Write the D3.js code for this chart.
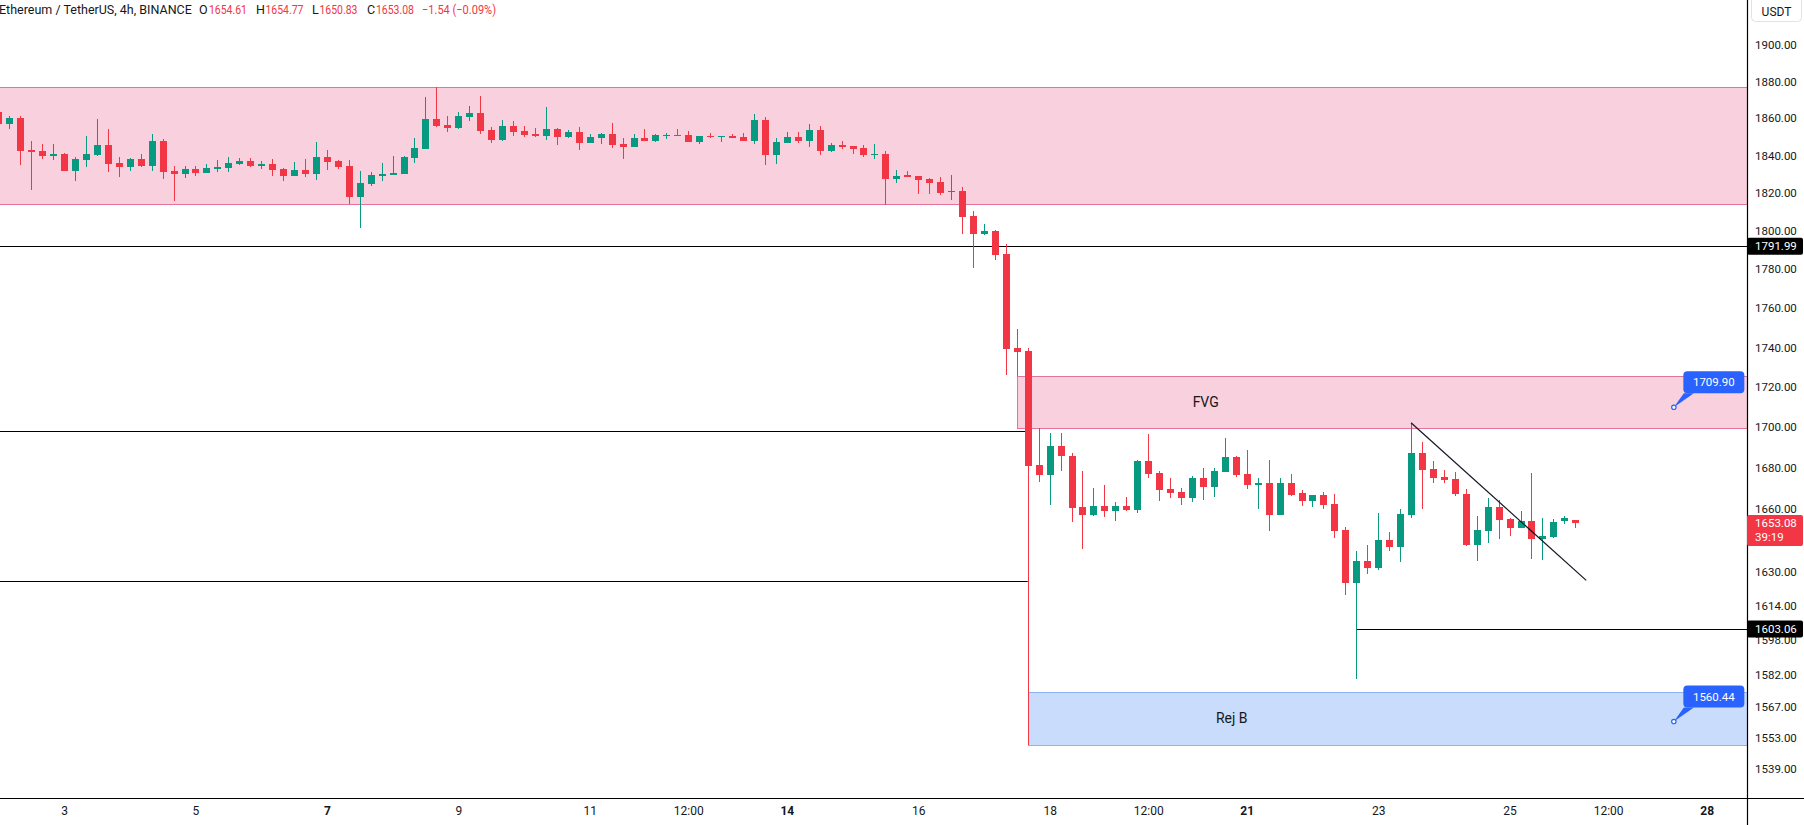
<!DOCTYPE html>
<html><head><meta charset="utf-8">
<script src="https://cdn.jsdelivr.net/npm/d3@7"></script>
<style>
html,body{margin:0;padding:0;background:#fff;overflow:hidden}
svg{display:block;font-family:Roboto,"Noto Sans",sans-serif}
</style>
</head><body>
<svg id="chart" width="1804" height="825"></svg>
<script>
// ---------------- DATA ----------------
const startTime = Date.UTC(2023, 7, 2, 0);   // first visible 4h bar
const barHours = 4;
const opens = [1863.3,1857.0,1860.1,1842.9,1842.3,1839.8,1840.7,1831.8,1837.7,1840.2,1845.6,1835.9,1833.9,1838.0,1834.3,1847.7,1831.6,1830.1,1832.7,1830.7,
1832.8,1833.4,1835.5,1837.0,1834.4,1835.3,1832.7,1829.1,1832.1,1830.1,1839.1,1837.0,1834.3,1817.8,1824.8,1829.1,1829.6,1830.1,1838.7,1843.6,
1859.5,1856.3,1854.9,1860.8,1862.8,1853.6,1848.4,1855.8,1853.1,1851.5,1850.6,1854.2,1850.0,1852.5,1846.8,1849.5,1851.5,1846.1,1844.7,1849.3,
1847.9,1850.4,1850.9,1850.9,1847.3,1850.4,1849.9,1850.4,1849.9,1847.9,1859.0,1840.4,1846.8,1849.9,1847.9,1853.6,1842.5,1845.6,1845.0,1843.9,
1840.4,1840.9,1827.5,1829.3,1828.9,1827.3,1825.6,1820.5,1821.0,1807.8,1798.3,1799.9,1787.9,1739.6,1738.1,1681.4,1676.5,1690.7,1685.8,1661.1,
1657.0,1661.5,1659.1,1661.5,1659.5,1683.4,1677.5,1669.7,1668.3,1665.4,1675.2,1670.6,1677.9,1685.3,1677.0,1671.5,1672.4,1657.0,1672.4,1667.9,
1664.0,1666.8,1662.4,1649.9,1624.6,1635.1,1631.8,1645.0,1641.7,1657.1,1687.3,1679.4,1675.5,1674.5,1667.5,1642.7,1649.4,1661.0,1655.2,1650.8,
1654.2,1645.5,1646.5,1654.2,1654.61];
const highs = [1864.0,1861.1,1861.1,1847.7,1846.1,1846.1,1841.3,1838.9,1850.4,1859.5,1854.2,1839.1,1838.6,1840.7,1851.5,1848.8,1834.3,1834.3,1834.3,1835.3,
1837.5,1839.1,1838.6,1838.6,1837.0,1838.0,1833.2,1836.4,1838.0,1847.2,1842.9,1837.5,1837.5,1831.6,1831.0,1835.9,1839.6,1839.6,1849.3,1871.4,
1876.7,1861.1,1863.3,1866.5,1871.9,1855.2,1859.0,1858.5,1855.8,1854.7,1866.0,1854.7,1853.6,1855.2,1851.5,1852.0,1857.4,1849.3,1851.5,1854.2,
1851.5,1852.0,1854.2,1853.1,1850.4,1852.0,1850.4,1851.5,1852.0,1862.2,1860.6,1849.3,1852.5,1852.5,1856.8,1855.8,1846.6,1847.7,1845.0,1845.6,
1846.1,1842.3,1832.1,1831.5,1828.9,1827.8,1828.3,1829.5,1823.0,1810.5,1803.5,1800.4,1793.1,1749.3,1739.6,1699.6,1697.0,1697.0,1687.2,1678.4,
1670.1,1671.5,1663.4,1665.8,1683.8,1696.6,1678.4,1675.2,1670.1,1676.0,1679.9,1679.9,1694.6,1685.8,1688.7,1675.2,1683.8,1675.2,1677.0,1669.3,
1666.8,1668.3,1667.3,1651.3,1639.8,1642.7,1658.1,1648.9,1660.0,1702.2,1692.8,1683.4,1678.9,1677.9,1669.5,1656.6,1665.3,1664.4,1655.6,1659.0,
1677.5,1655.6,1655.2,1656.6,1654.77];
const lows = [1856.0,1854.3,1835.0,1821.5,1838.2,1837.7,1831.8,1826.4,1833.9,1839.6,1831.2,1828.5,1831.8,1833.5,1831.8,1827.5,1815.6,1828.0,1829.1,1830.7,
1830.9,1831.2,1834.8,1833.9,1832.8,1829.1,1826.4,1829.1,1828.5,1826.9,1832.3,1832.8,1814.0,1801.7,1823.7,1826.4,1829.6,1830.1,1836.1,1843.6,
1855.4,1852.7,1854.3,1858.6,1851.6,1846.8,1847.9,1850.6,1850.0,1850.0,1848.4,1845.7,1849.5,1843.0,1846.8,1846.3,1844.1,1838.2,1844.7,1847.9,
1847.3,1849.0,1850.4,1847.3,1846.3,1849.5,1847.3,1849.5,1847.9,1846.3,1835.0,1835.5,1846.8,1846.8,1844.7,1840.4,1842.0,1843.6,1840.9,1839.3,
1838.2,1813.7,1825.3,1828.2,1819.4,1819.6,1818.8,1816.0,1798.3,1780.4,1797.8,1784.8,1726.0,1725.7,1549.8,1673.3,1661.9,1678.4,1653.8,1640.9,
1656.6,1656.1,1654.2,1659.1,1658.1,1675.2,1663.9,1665.4,1661.9,1663.4,1664.4,1665.8,1677.9,1675.6,1669.7,1660.0,1649.4,1657.0,1666.1,1661.5,
1661.0,1660.0,1646.0,1619.0,1580.1,1628.9,1630.8,1639.8,1634.6,1655.6,1660.0,1672.6,1672.6,1666.1,1642.2,1635.1,1643.6,1645.5,1647.0,1650.8,
1636.0,1635.5,1646.0,1652.8,1650.83];
const closes = [1857.0,1860.1,1842.5,1842.0,1839.8,1840.7,1831.8,1838.0,1840.7,1845.6,1835.5,1833.7,1838.0,1834.3,1847.7,1831.2,1830.1,1832.7,1830.7,1833.2,
1833.7,1835.9,1837.0,1834.4,1835.5,1832.3,1829.1,1832.1,1830.1,1839.1,1836.6,1833.9,1817.8,1825.1,1829.4,1830.0,1830.5,1839.1,1843.9,1859.5,
1855.9,1854.9,1861.1,1862.8,1853.3,1848.4,1855.8,1852.7,1851.1,1850.6,1854.2,1850.0,1852.5,1846.8,1849.9,1851.5,1845.7,1844.7,1849.3,1847.9,
1850.9,1850.9,1850.4,1847.3,1850.4,1849.9,1850.4,1849.5,1847.9,1859.0,1840.4,1847.2,1849.9,1847.9,1853.6,1842.5,1845.6,1844.7,1843.6,1840.4,
1840.9,1827.5,1828.9,1828.2,1826.8,1825.1,1820.2,1821.0,1807.3,1798.3,1799.9,1787.4,1739.1,1737.6,1680.9,1676.5,1690.7,1685.6,1660.6,1657.0,
1661.5,1659.1,1661.5,1659.5,1683.4,1677.2,1669.3,1667.9,1665.4,1675.2,1670.6,1678.4,1685.3,1676.5,1671.5,1672.4,1657.0,1672.4,1667.0,1664.0,
1666.8,1661.9,1649.4,1624.6,1635.1,1631.8,1645.1,1641.7,1657.6,1687.3,1678.9,1675.0,1674.0,1667.1,1642.7,1649.9,1661.0,1654.7,1650.8,1654.2,
1645.5,1647.0,1653.7,1655.6,1653.08];

const yTickValues = [1900,1880,1860,1840,1820,1800,1780,1760,1740,1720,1700,1680,1660,1630,1614,1598,1582,1567,1553,1539];
const xTickDates = ["2023-08-03T00:00Z","2023-08-05T00:00Z","2023-08-07T00:00Z","2023-08-09T00:00Z","2023-08-11T00:00Z","2023-08-12T12:00Z",
  "2023-08-14T00:00Z","2023-08-16T00:00Z","2023-08-18T00:00Z","2023-08-19T12:00Z","2023-08-21T00:00Z","2023-08-23T00:00Z",
  "2023-08-25T00:00Z","2023-08-26T12:00Z","2023-08-28T00:00Z"];
const xTickLabels = ["3","5","7","9","11","12:00","14","16","18","12:00","21","23","25","12:00","28"];
const xTickWeekStart = ["7","14","21","28"];

// zones: name, start time, end time, top price, bottom price
const zoneNames  = ["supply","FVG","Rej B"];
const zoneStart  = ["2023-07-30T00:00Z","2023-08-17T12:00Z","2023-08-17T16:00Z"];
const zoneEnd    = ["2023-08-31T00:00Z","2023-08-31T00:00Z","2023-08-31T00:00Z"];
const zoneTop    = [1876.8, 1725.7, 1574.1];
const zoneBottom = [1813.9, 1699.6, 1549.8];
const zoneLabels = ["", "FVG", "Rej B"];
const zoneLabelTime = ["", "2023-08-20T09:00Z", "2023-08-20T18:30Z"];

// horizontal levels
const levelPrices = [1791.99, 1698.1, 1625.7, 1603.06];
const levelStart  = ["2023-07-30T00:00Z","2023-07-30T00:00Z","2023-07-30T00:00Z","2023-08-22T16:00Z"];
const levelEnd    = ["2023-08-31T00:00Z","2023-08-17T16:00Z","2023-08-17T16:00Z","2023-08-31T00:00Z"];
const levelAxisLabels = [1791.99, 1603.06];

// trend line
const trendTimes  = ["2023-08-23T12:00Z","2023-08-26T04:00Z"];
const trendPrices = [1702.2, 1625.9];

// callouts
const calloutTimes  = ["2023-08-27T12:00Z","2023-08-27T12:00Z"];
const calloutPrices = [1709.90, 1560.44];

// header
const headerTitle = "Ethereum / TetherUS, 4h, BINANCE";
const ohlcKeys = ["O","H","L","C"];
const ohlcVals = ["1654.61","1654.77","1650.83","1653.08"];
const changeText = "\u22121.54 (\u22120.09%)";
const lastPrice = 1653.08;
const countdown = "39:19";
const currency = "USDT";

// ---------------- CHART ----------------
const W = 1804, H = 825, plotR = 1747, plotB = 798;
const UP = "#089981", DOWN = "#F23645", TXT = "#131722";

const candles = opens.map((o, i) => ({
  t: new Date(startTime + i * barHours * 3600e3), o, h: highs[i], l: lows[i], c: closes[i]
}));

const x = d3.scaleUtc()
  .domain([new Date(Date.UTC(2023,7,2)), new Date(Date.UTC(2023,7,28))])
  .range([-1.65, 1706.7]);
const y = d3.scaleLog().domain([1526.1, 1925.1]).range([plotB, 0]);

const svg = d3.select("#chart");
svg.append("rect").attr("width", W).attr("height", H).attr("fill", "#fff");
svg.append("defs").append("clipPath").attr("id", "plotClip")
  .append("rect").attr("x", 0).attr("y", 0).attr("width", plotR).attr("height", plotB);

const plot = svg.append("g").attr("clip-path", "url(#plotClip)");

// zones
zoneNames.forEach((n, i) => {
  const isBlue = n === "Rej B";
  const x0 = x(new Date(zoneStart[i])), x1 = x(new Date(zoneEnd[i]));
  const y0 = Math.round(y(zoneTop[i])) + 0.5, y1 = Math.round(y(zoneBottom[i])) + 0.5;
  plot.append("rect")
    .attr("x", Math.round(x0) + 0.5).attr("y", y0)
    .attr("width", x1 - x0).attr("height", y1 - y0)
    .attr("fill", isBlue ? "#C9DCFB" : "#F9D0DD")
    .attr("stroke", isBlue ? "#8DB2F0" : "#E27399")
    .attr("stroke-width", 1);
});

// levels
levelPrices.forEach((p, i) => {
  const yy = Math.round(y(p)) + 0.5;
  plot.append("line")
    .attr("x1", x(new Date(levelStart[i]))).attr("x2", x(new Date(levelEnd[i])))
    .attr("y1", yy).attr("y2", yy)
    .attr("stroke", "#000").attr("stroke-width", 1.2);
});

// candles
const cg = plot.append("g");
candles.forEach(d => {
  const cx = Math.round(x(d.t));
  const col = d.c >= d.o ? UP : DOWN;
  const yh = y(d.h), yl = y(d.l);
  cg.append("rect").attr("x", cx).attr("y", Math.round(yh))
    .attr("width", 1).attr("height", Math.max(1, Math.round(yl) - Math.round(yh)))
    .attr("fill", col);
  const yt = Math.round(y(Math.max(d.o, d.c))), yb = Math.round(y(Math.min(d.o, d.c)));
  cg.append("rect").attr("x", cx - 3).attr("y", yt)
    .attr("width", 7).attr("height", Math.max(1, yb - yt))
    .attr("fill", col);
});

// zone labels
zoneLabels.forEach((lab, i) => {
  if (!lab) return;
  plot.append("text")
    .attr("x", x(new Date(zoneLabelTime[i])))
    .attr("y", y(Math.sqrt(zoneTop[i] * zoneBottom[i])))
    .attr("text-anchor", "middle").attr("dominant-baseline", "central")
    .attr("font-size", 14).attr("fill", TXT).text(lab);
});

// trend line
plot.append("line")
  .attr("x1", x(new Date(trendTimes[0]))).attr("y1", y(trendPrices[0]))
  .attr("x2", x(new Date(trendTimes[1]))).attr("y2", y(trendPrices[1]))
  .attr("stroke", "#131722").attr("stroke-width", 1.2);

// callouts
calloutTimes.forEach((t, i) => {
  const px = x(new Date(t)), py = y(calloutPrices[i]);
  const g = plot.append("g").attr("transform", `translate(${px},${py})`);
  g.append("path").attr("d", "M0,0 L10,-14 L20,-14 Z").attr("fill", "#2962FF");
  g.append("rect").attr("x", 9.5).attr("y", -36).attr("width", 61).attr("height", 22)
    .attr("rx", 4).attr("fill", "#2962FF");
  g.append("text").attr("x", 40).attr("y", -25).attr("text-anchor", "middle")
    .attr("dominant-baseline", "central").attr("fill", "#fff").attr("font-size", 11.5)
    .text(d3.format(".2f")(calloutPrices[i]));
  g.append("circle").attr("r", 2.2).attr("fill", "#fff").attr("stroke", "#2962FF").attr("stroke-width", 1.2);
});

// axes frame
svg.append("line").attr("x1", 0).attr("x2", W).attr("y1", plotB + 0.5).attr("y2", plotB + 0.5)
  .attr("stroke", "#000").attr("stroke-width", 1.2);
svg.append("line").attr("x1", plotR + 0.5).attr("x2", plotR + 0.5).attr("y1", 0).attr("y2", H)
  .attr("stroke", "#000").attr("stroke-width", 1.2);

// y axis
const yAxis = d3.axisRight(y).tickValues(yTickValues).tickFormat(d3.format(".2f")).tickSize(0).tickPadding(8);
const ya = svg.append("g").attr("transform", `translate(${plotR},0)`).call(yAxis);
ya.select(".domain").remove();
ya.selectAll("text").attr("font-size", 11.5).attr("fill", TXT).attr("font-family", "Roboto, sans-serif");

// x axis
const xAxis = d3.axisBottom(x).tickValues(xTickDates.map(d => new Date(d)))
  .tickFormat((d, i) => xTickLabels[i]).tickSize(0).tickPadding(8);
const xa = svg.append("g").attr("transform", `translate(0,${plotB})`).call(xAxis);
xa.select(".domain").remove();
xa.selectAll("text").attr("font-size", 12).attr("fill", TXT).attr("font-family", "Roboto, sans-serif")
  .attr("font-weight", (d, i) => xTickWeekStart.includes(xTickLabels[i]) ? 700 : 400);

// axis price labels (black)
levelAxisLabels.forEach(p => {
  const yy = y(p);
  svg.append("rect").attr("x", plotR).attr("y", yy - 8.5).attr("width", 56).attr("height", 17)
    .attr("rx", 2).attr("fill", "#000");
  svg.append("text").attr("x", plotR + 8).attr("y", yy).attr("dominant-baseline", "central")
    .attr("font-size", 11.5).attr("fill", "#fff").text(d3.format(".2f")(p));
});
// last price label
{
  const yy = y(lastPrice);
  svg.append("rect").attr("x", plotR).attr("y", yy - 8.5).attr("width", 56).attr("height", 31)
    .attr("rx", 2).attr("fill", DOWN);
  svg.append("text").attr("x", plotR + 8).attr("y", yy).attr("dominant-baseline", "central")
    .attr("font-size", 11.5).attr("fill", "#fff").text(d3.format(".2f")(lastPrice));
  svg.append("text").attr("x", plotR + 8).attr("y", yy + 14).attr("dominant-baseline", "central")
    .attr("font-size", 11.5).attr("fill", "#fff").text(countdown);
}

// currency button
svg.append("rect").attr("x", 1751.5).attr("y", -4.5).attr("width", 50).attr("height", 26)
  .attr("rx", 4).attr("fill", "#fff").attr("stroke", "#E0E3EB");
svg.append("text").attr("x", 1776.5).attr("y", 11.5).attr("text-anchor", "middle")
  .attr("dominant-baseline", "central").attr("font-size", 12).attr("fill", TXT).text(currency);

// header
const hdr = svg.append("g").attr("font-size", 12.5);
hdr.append("text").attr("x", -1).attr("y", 14).attr("fill", TXT).text(headerTitle);
const hx = [199, 256, 312, 367];
const hkw = [10, 9.5, 7.5, 9];
ohlcKeys.forEach((k, i) => {
  hdr.append("text").attr("x", hx[i]).attr("y", 14).attr("fill", TXT).text(k);
  hdr.append("text").attr("x", hx[i] + hkw[i]).attr("y", 14).attr("fill", DOWN)
    .attr("textLength", 38).attr("lengthAdjust", "spacingAndGlyphs").text(ohlcVals[i]);
});
hdr.append("text").attr("x", 422).attr("y", 14).attr("fill", DOWN)
  .attr("textLength", 74).attr("lengthAdjust", "spacingAndGlyphs").text(changeText);
</script>
</body></html>
